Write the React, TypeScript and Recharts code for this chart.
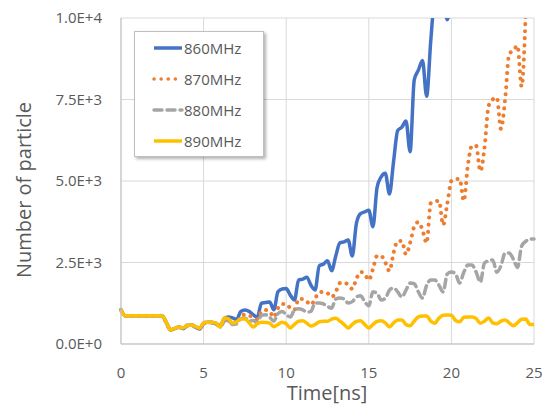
import { LineChart, Line, XAxis, YAxis, CartesianGrid } from "recharts"

const time = [
  0, 0.25, 0.5, 0.75, 1, 1.25, 1.5, 1.75, 2, 2.25, 2.5, 2.75, 3, 3.25, 3.5, 3.75,
  4, 4.25, 4.5, 4.75, 5, 5.25, 5.5, 5.75, 6, 6.25, 6.5, 6.75, 7, 7.25, 7.5, 7.75,
  8, 8.25, 8.5, 8.75, 9, 9.25, 9.5, 9.75, 10, 10.25, 10.5, 10.75, 11, 11.25, 11.5, 11.75,
  12, 12.25, 12.5, 12.75, 13, 13.25, 13.5, 13.75, 14, 14.25, 14.5, 14.75, 15, 15.25, 15.5, 15.75,
  16, 16.25, 16.5, 16.75, 17, 17.25, 17.5, 17.75, 18, 18.25, 18.5, 18.75, 19, 19.25, 19.5, 19.75,
  20, 20.25, 20.5, 20.75, 21, 21.25, 21.5, 21.75, 22, 22.25, 22.5, 22.75, 23, 23.25, 23.5, 23.75,
  24, 24.25, 24.5, 24.75, 25,
]

// 860MHz
const f860 = [
  1050, 870, 870, 870, 870, 870, 870, 870, 870, 870, 860, 650, 430, 470, 510, 470,
  560, 580, 520, 460, 620, 670, 660, 620, 560, 780, 830, 800, 750, 1000, 1040, 1000,
  900, 820, 1250, 1270, 1290, 1050, 1600, 1690, 1700, 1500, 1350, 1960, 1990, 2050, 1800, 1660,
  2400, 2450, 2550, 2250, 2700, 3100, 3130, 3190, 2700, 3700, 4000, 4050, 4100, 3600, 4800, 5130,
  5240, 4600, 5600, 6550, 6650, 6840, 5900, 8100, 8400, 8700, 7600, 9300, 10800, 11400, 10600, 9950,
  10600, null, null, null, null, null, null, null, null, null, null, null, null, null, null, null,
  null, null, null, null, null,
]

// 870MHz
const f870 = [
  1050, 870, 870, 870, 870, 870, 870, 870, 870, 870, 860, 650, 430, 480, 520, 490,
  570, 580, 540, 490, 640, 670, 660, 640, 520, 700, 720, 640, 620, 850, 900, 880,
  800, 760, 1000, 1040, 1000, 820, 1100, 1230, 1230, 1100, 1050, 1380, 1380, 1300, 1200, 1400,
  1580, 1600, 1560, 1440, 1600, 1870, 1880, 1820, 1690, 2000, 2210, 2150, 1960, 2300, 2700, 2700,
  2500, 2240, 2800, 3160, 3160, 2750, 3100, 3600, 3740, 3500, 3100, 4320, 4370, 4390, 3650, 4300,
  5000, 5060, 5060, 4390, 5500, 6080, 6080, 5300, 6000, 7300, 7500, 7560, 6600, 7500, 8900, 9000,
  9150, 7900, 10200, null, null,
]

// 880MHz
const f880 = [
  1050, 870, 870, 870, 870, 870, 870, 870, 870, 870, 860, 650, 430, 480, 520, 490,
  570, 580, 540, 490, 640, 670, 660, 640, 520, 700, 720, 600, 620, 780, 800, 700,
  720, 650, 880, 900, 820, 700, 930, 1000, 900, 830, 1040, 1080, 1050, 980, 1000, 1260,
  1260, 1230, 1150, 1100, 1380, 1410, 1380, 1260, 1300, 1440, 1480, 1300, 1170, 1600, 1560, 1350,
  1400, 1650, 1720, 1600, 1440, 1650, 1870, 1850, 1600, 1410, 1800, 1960, 1960, 1800, 1600, 2150,
  2210, 2150, 1870, 2200, 2420, 2420, 2200, 1900, 2480, 2550, 2580, 2200, 2400, 2790, 2790, 2600,
  2350, 3000, 3150, 3220, 3220,
]

// 890MHz
const f890 = [
  1050, 870, 870, 870, 870, 870, 870, 870, 870, 870, 860, 650, 430, 480, 520, 490,
  570, 580, 540, 490, 640, 670, 660, 640, 520, 800, 780, 640, 680, 770, 770, 650,
  520, 620, 670, 660, 640, 530, 600, 670, 620, 490, 600, 700, 710, 640, 550, 600,
  680, 700, 700, 760, 790, 700, 600, 490, 600, 690, 710, 600, 490, 600, 690, 710,
  650, 520, 650, 740, 740, 600, 560, 700, 830, 860, 860, 700, 640, 800, 880, 890,
  880, 720, 680, 820, 830, 830, 780, 640, 700, 800, 650, 620, 700, 740, 650, 560,
  650, 760, 770, 600, 600,
]

const xTicks = [0, 5, 10, 15, 20, 25]
const yTicks = [0, 2500, 5000, 7500, 10000]
const yTickLabels = ["0.0E+0", "2.5E+3", "5.0E+3", "7.5E+3", "1.0E+4"]

const series = [
  { key: "f860", name: "860MHz", color: "#4472C4", dash: undefined, cap: "butt", width: 3.5 },
  { key: "f870", name: "870MHz", color: "#ED7D31", dash: "0.1 7", cap: "round", width: 4 },
  { key: "f880", name: "880MHz", color: "#A5A5A5", dash: "8 5", cap: "round", width: 3.5 },
  { key: "f890", name: "890MHz", color: "#FFC000", dash: undefined, cap: "butt", width: 3.5 },
]

const data = time.map((t, i) => ({
  t,
  f860: f860[i],
  f870: f870[i],
  f880: f880[i],
  f890: f890[i],
}))

const font = "'Open Sans', 'Noto Sans', sans-serif"
const textColor = "#595959"

// legend drawn as an overlay so it doesn't eat into the plot area
function LegendBox() {
  return (
    <div
      style={{
        position: "absolute",
        left: 134,
        top: 31,
        width: 130,
        height: 126,
        background: "#fff",
        border: "1px solid #bfbfbf",
        boxShadow: "2px 2px 3px rgba(0,0,0,0.3)",
        fontFamily: font,
        fontSize: 15,
        color: textColor,
        boxSizing: "border-box",
      }}
    >
      {series.map((s) => (
        <div key={s.key} style={{ display: "flex", alignItems: "center", height: 31, paddingLeft: 17 }}>
          <svg width={32} height={10}>
            <line
              x1={2}
              y1={5}
              x2={30}
              y2={5}
              stroke={s.color}
              strokeWidth={3.5}
              strokeDasharray={s.dash}
              strokeLinecap={s.cap as any}
            />
          </svg>
          <span>{s.name}</span>
        </div>
      ))}
    </div>
  )
}

function YLabel() {
  return (
    <text
      x={23}
      y={190}
      transform="rotate(-90 23 190)"
      textAnchor="middle"
      dominantBaseline="central"
      fill={textColor}
      fontSize={20}
      fontFamily={font}
    >
      Number of particle
    </text>
  )
}

function XLabel() {
  return (
    <text x={327} y={400} textAnchor="middle" fill={textColor} fontSize={20} fontFamily={font}>
      Time[ns]
    </text>
  )
}

export default function App() {
  return (
    <div style={{ position: "absolute", left: 0, top: 0, width: 544, height: 406, background: "#fff" }}>
      <LineChart width={544} height={406} data={data} margin={{ top: 18, right: 10, bottom: 0, left: 0 }}>
        <CartesianGrid stroke="#d9d9d9" strokeWidth={1} />
        <XAxis
          dataKey="t"
          type="number"
          domain={[0, 25]}
          ticks={xTicks}
          height={62}
          axisLine={{ stroke: "#bfbfbf" }}
          tickLine={false}
          tickMargin={17}
          tick={{ fill: textColor, fontSize: 15, fontFamily: font }}
          label={<XLabel />}
        />
        <YAxis
          type="number"
          domain={[0, 10000]}
          ticks={yTicks}
          allowDataOverflow
          width={121}
          axisLine={{ stroke: "#bfbfbf" }}
          tickLine={false}
          tickMargin={13}
          tickFormatter={(v: number) => yTickLabels[yTicks.indexOf(v)]}
          tick={{ fill: textColor, fontSize: 15, fontFamily: font }}
          label={<YLabel />}
        />
        {series.map((s) => (
          <Line
            key={s.key}
            dataKey={s.key}
            name={s.name}
            type="monotone"
            stroke={s.color}
            strokeWidth={s.width}
            strokeDasharray={s.dash}
            strokeLinecap={s.cap as any}
            dot={false}
            isAnimationActive={false}
          />
        ))}
      </LineChart>
      <LegendBox />
    </div>
  )
}
